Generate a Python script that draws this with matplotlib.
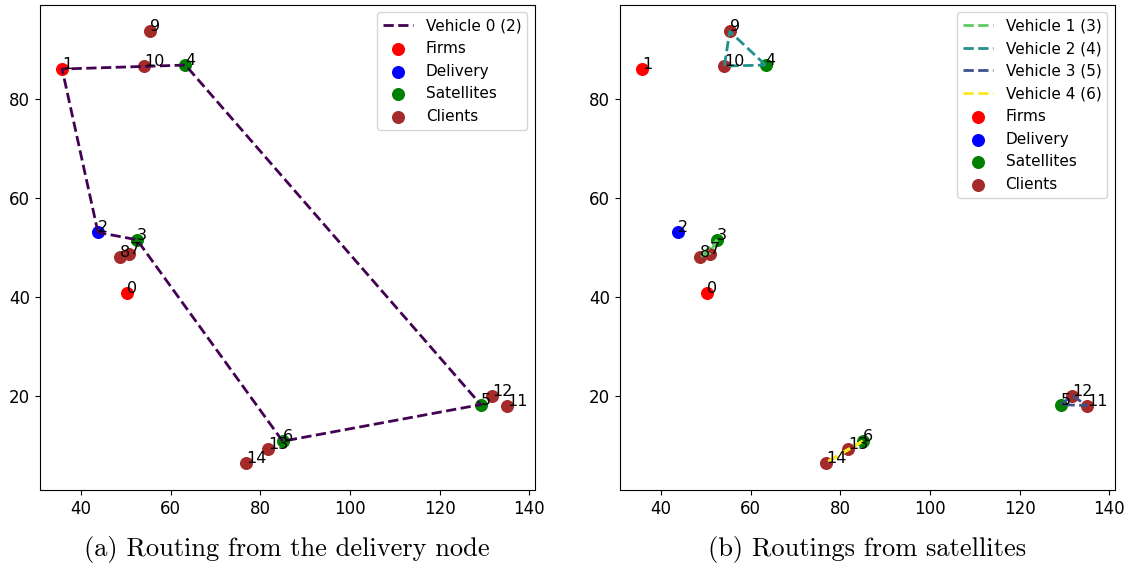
import matplotlib.pyplot as plt

# node coordinates
firms_idx = [0, 1]
delivery_idx = [2]
satellites_idx = [3, 4, 5, 6]
clients_idx = [7, 8, 9, 10, 11, 12, 13, 14]

xs = [50.3, 35.8, 43.8, 52.5, 63.3, 129.2, 85.0, 50.8, 48.7, 55.3, 54.1, 135.0, 131.8, 81.8, 76.9]
ys = [40.8, 86.0, 53.0, 51.5, 86.8, 18.2, 10.8, 48.7, 48.1, 93.6, 86.6, 18.0, 20.0, 9.2, 6.5]

# routes
route_delivery = [2, 1, 4, 5, 6, 3, 2]
routes_sat = {
    'Vehicle 1 (3)': [3, 7, 8, 3],
    'Vehicle 2 (4)': [4, 9, 10, 4],
    'Vehicle 3 (5)': [5, 12, 11, 5],
    'Vehicle 4 (6)': [6, 13, 14, 6],
}
route_colors = ['#5ec962', '#21918c', '#3b528b', '#fde725']

fig = plt.figure(figsize=(11.28, 5.71), dpi=100)
ax1 = fig.add_axes([0.0352, 0.1419, 0.4391, 0.8499])
ax2 = fig.add_axes([0.5496, 0.1419, 0.4389, 0.8499])


def draw_nodes(ax):
    groups = [(firms_idx, 'red', 'Firms'), (delivery_idx, 'blue', 'Delivery'),
              (satellites_idx, 'green', 'Satellites'), (clients_idx, 'brown', 'Clients')]
    for idx, col, lab in groups:
        ax.scatter([xs[i] for i in idx], [ys[i] for i in idx], c=col, s=70, label=lab)
    for i in range(len(xs)):
        ax.annotate(str(i), (xs[i], ys[i]), fontsize=11.5)


# (a) delivery node route
ax1.plot([xs[i] for i in route_delivery], [ys[i] for i in route_delivery],
         '--', color='#440154', lw=2, label='Vehicle 0 (2)')
draw_nodes(ax1)

# (b) satellite routes
for (name, r), col in zip(routes_sat.items(), route_colors):
    ax2.plot([xs[i] for i in r], [ys[i] for i in r], '--', color=col, lw=2, label=name)
draw_nodes(ax2)

for ax in (ax1, ax2):
    ax.set_xlim(30.8, 141.3)
    ax.set_ylim(0.95, 99.0)
    ax.set_xticks([40, 60, 80, 100, 120, 140])
    ax.set_yticks([20, 40, 60, 80])
    ax.tick_params(labelsize=12)
    ax.legend(loc='upper right', fontsize=11)

fig.text(0.2547, 0.0385, '(a) Routing from the delivery node', ha='center', va='center',
         fontsize=19, family='cmr10')
fig.text(0.769, 0.0385, '(b) Routings from satellites', ha='center', va='center',
         fontsize=19, family='cmr10')

fig.savefig('out.png', dpi=100)
